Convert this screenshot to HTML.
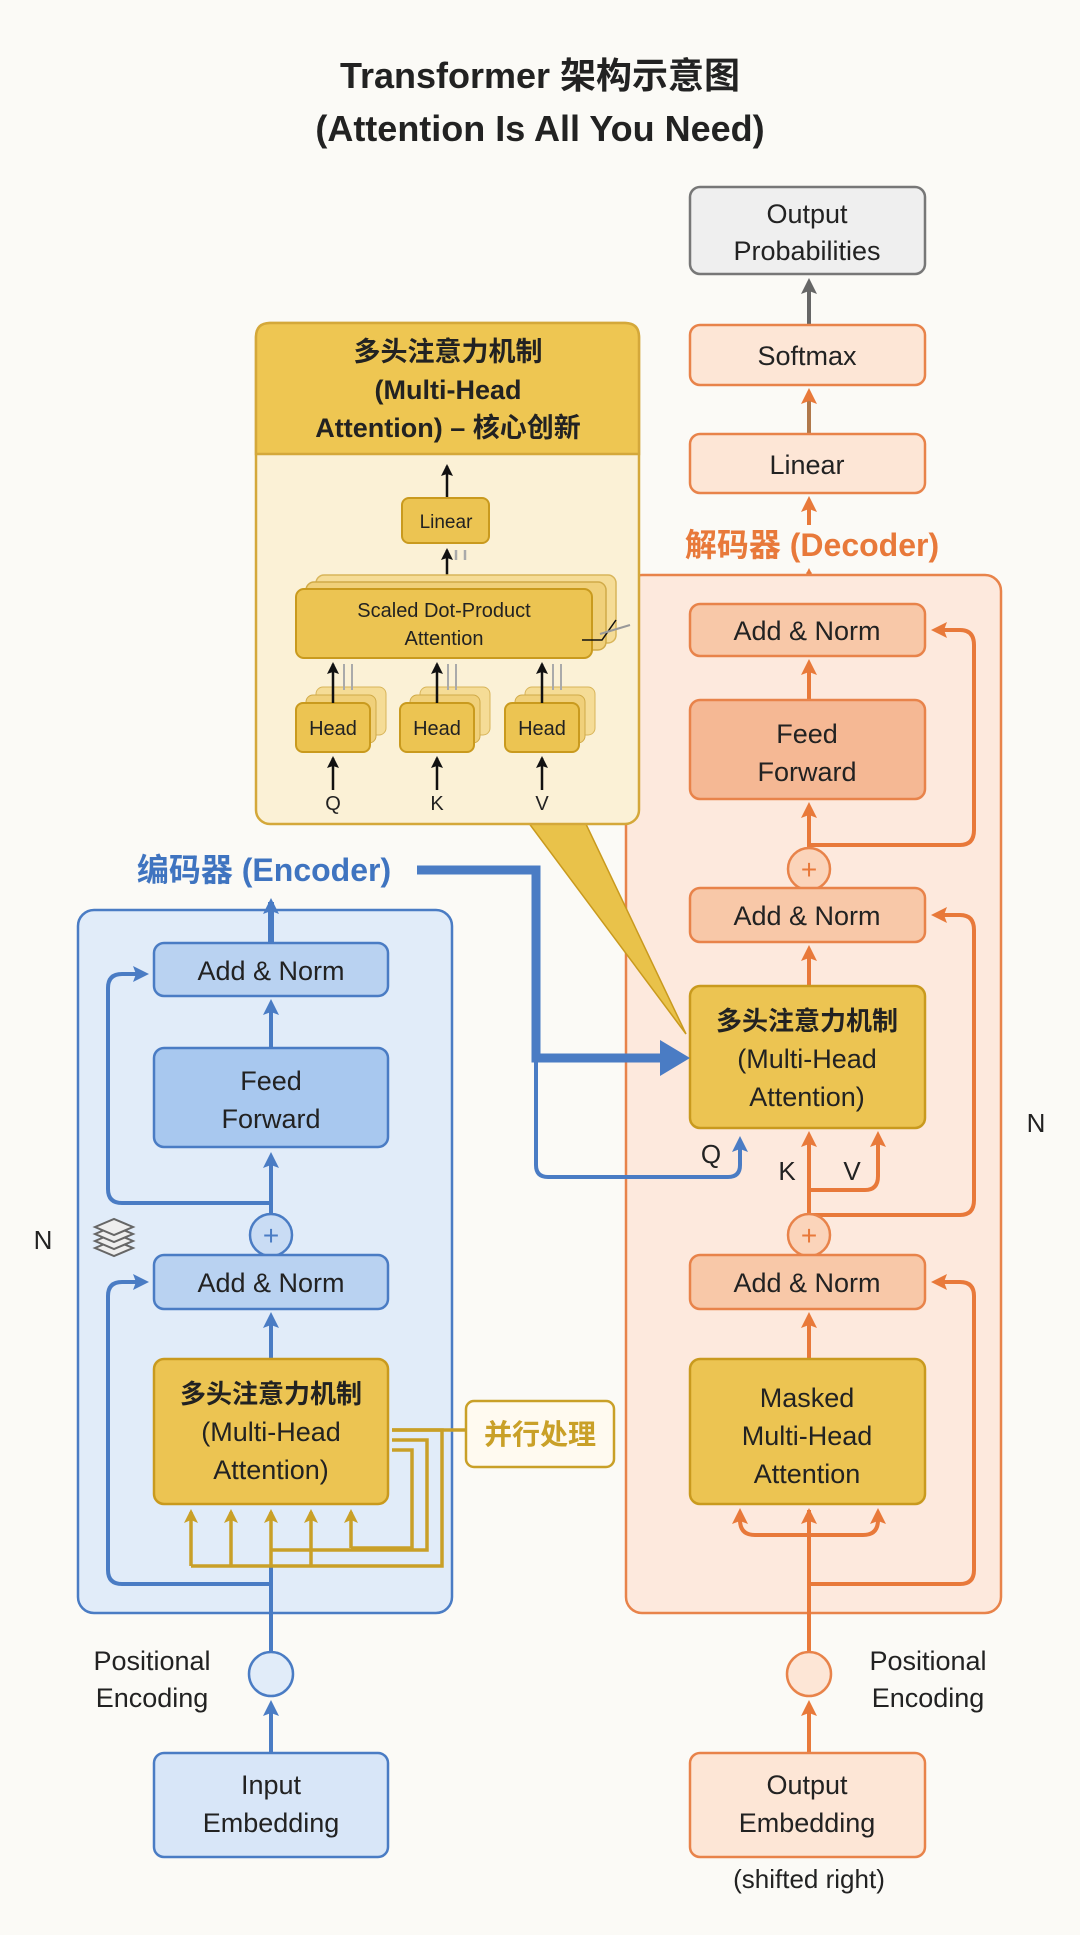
<!DOCTYPE html>
<html><head><meta charset="utf-8"><style>
html,body{margin:0;padding:0;background:#fbfaf6;}
svg{display:block}
text{font-family:"Liberation Sans","Noto Sans CJK SC",sans-serif;fill:#222;}
</style></head><body>
<svg width="1080" height="1935" viewBox="0 0 1080 1935" xmlns="http://www.w3.org/2000/svg">
<defs>
<marker id="ao" markerWidth="16" markerHeight="16" refX="12" refY="8" orient="auto" markerUnits="userSpaceOnUse"><path d="M0,0 L16,8 L0,16 L3,8z" fill="#e8793a"/></marker>
<marker id="ab2" markerWidth="16" markerHeight="16" refX="12" refY="8" orient="auto" markerUnits="userSpaceOnUse"><path d="M0,0 L16,8 L0,16 L3,8z" fill="#4a7cc4"/></marker>
<marker id="ay" markerWidth="14" markerHeight="14" refX="11" refY="7" orient="auto" markerUnits="userSpaceOnUse"><path d="M0,0 L14,7 L0,14 L3,7z" fill="#c9a028"/></marker>
<marker id="ak" markerWidth="12" markerHeight="12" refX="10" refY="6" orient="auto" markerUnits="userSpaceOnUse"><path d="M0,0 L12,6 L0,12 L2,6z" fill="#111"/></marker>
<marker id="ag" markerWidth="16" markerHeight="16" refX="12" refY="8" orient="auto" markerUnits="userSpaceOnUse"><path d="M0,0 L16,8 L0,16 L3,8z" fill="#666"/></marker>
</defs>

<text x="540" y="88" font-size="36" font-weight="bold" text-anchor="middle">Transformer 架构示意图</text>
<text x="540" y="141" font-size="36" font-weight="bold" text-anchor="middle">(Attention Is All You Need)</text>

<rect x="690" y="187" width="235" height="87" rx="10" fill="#efefef" stroke="#777" stroke-width="2.5"/>
<text x="807" y="223" font-size="27" text-anchor="middle">Output</text>
<text x="807" y="260" font-size="27" text-anchor="middle">Probabilities</text>
<line x1="809" y1="325" x2="809" y2="282" stroke="#666" stroke-width="4" marker-end="url(#ag)"/>
<rect x="690" y="325" width="235" height="60" rx="10" fill="#fde6d6" stroke="#e8834a" stroke-width="2.5"/>
<text x="807" y="365" font-size="27" text-anchor="middle">Softmax</text>
<line x1="809" y1="434" x2="809" y2="392" stroke="#b0784a" stroke-width="4" marker-end="url(#ao)"/>
<rect x="690" y="434" width="235" height="59" rx="10" fill="#fde6d6" stroke="#e8834a" stroke-width="2.5"/>
<text x="807" y="474" font-size="27" text-anchor="middle">Linear</text>
<line x1="809" y1="525" x2="809" y2="500" stroke="#e8793a" stroke-width="4" marker-end="url(#ao)"/>
<text x="812" y="556" font-size="32" font-weight="bold" text-anchor="middle" style="fill:#e8793a">解码器 (Decoder)</text>
<line x1="809" y1="604" x2="809" y2="572" stroke="#e8793a" stroke-width="5" marker-end="url(#ao)"/>

<rect x="626" y="575" width="375" height="1038" rx="16" fill="#fde9dd" stroke="#e8834a" stroke-width="2.5"/>
<g stroke="#e8793a" stroke-width="4" fill="none">
<line x1="809" y1="1753" x2="809" y2="1704" marker-end="url(#ao)"/>
<line x1="809" y1="1652" x2="809" y2="1510"/>
<path d="M809,1535 H755 Q740,1535 740,1520 V1512" marker-end="url(#ao)"/>
<path d="M809,1535 H863 Q878,1535 878,1520 V1512" marker-end="url(#ao)"/>
<line x1="809" y1="1535" x2="809" y2="1512" marker-end="url(#ao)"/>
<path d="M809,1584 H960 Q974,1584 974,1570 V1296 Q974,1282 960,1282 H935" marker-end="url(#ao)"/>
<line x1="809" y1="1359" x2="809" y2="1316" marker-end="url(#ao)"/>
<line x1="809" y1="1255" x2="809" y2="1135" marker-end="url(#ao)"/>
<path d="M809,1190 H865 Q878,1190 878,1176 V1135" marker-end="url(#ao)"/>
<path d="M809,1215 H960 Q974,1215 974,1200 V930 Q974,915 960,915 H935" marker-end="url(#ao)"/>
<line x1="809" y1="986" x2="809" y2="949" marker-end="url(#ao)"/>
<line x1="809" y1="888" x2="809" y2="806" marker-end="url(#ao)"/>
<path d="M809,845 H960 Q974,845 974,830 V645 Q974,630 960,630 H935" marker-end="url(#ao)"/>
<line x1="809" y1="700" x2="809" y2="663" marker-end="url(#ao)"/>
</g>
<rect x="690" y="604" width="235" height="52" rx="10" fill="#f8c8a8" stroke="#e8834a" stroke-width="2.5"/>
<text x="807" y="640" font-size="27" text-anchor="middle">Add &amp; Norm</text>
<rect x="690" y="700" width="235" height="99" rx="10" fill="#f5b894" stroke="#e8834a" stroke-width="2.5"/>
<text x="807" y="743" font-size="27" text-anchor="middle">Feed</text>
<text x="807" y="781" font-size="27" text-anchor="middle">Forward</text>
<circle cx="809" cy="869" r="21" fill="#fbd4ba" stroke="#e8834a" stroke-width="2.5"/>
<text x="809" y="879" font-size="28" text-anchor="middle" style="fill:#e8793a">+</text>
<rect x="690" y="888" width="235" height="54" rx="10" fill="#f8c8a8" stroke="#e8834a" stroke-width="2.5"/>
<text x="807" y="925" font-size="27" text-anchor="middle">Add &amp; Norm</text>
<rect x="690" y="986" width="235" height="142" rx="10" fill="#ecc452" stroke="#c99a1e" stroke-width="2.5"/>
<text x="807" y="1030" font-size="26" font-weight="bold" text-anchor="middle">多头注意力机制</text>
<text x="807" y="1068" font-size="27" text-anchor="middle">(Multi-Head</text>
<text x="807" y="1106" font-size="27" text-anchor="middle">Attention)</text>
<text x="711" y="1163" font-size="26" text-anchor="middle">Q</text>
<text x="787" y="1180" font-size="26" text-anchor="middle">K</text>
<text x="852" y="1180" font-size="26" text-anchor="middle">V</text>
<circle cx="809" cy="1235" r="21" fill="#fbd4ba" stroke="#e8834a" stroke-width="2.5"/>
<text x="809" y="1245" font-size="28" text-anchor="middle" style="fill:#e8793a">+</text>
<rect x="690" y="1255" width="235" height="54" rx="10" fill="#f8c8a8" stroke="#e8834a" stroke-width="2.5"/>
<text x="807" y="1292" font-size="27" text-anchor="middle">Add &amp; Norm</text>
<rect x="690" y="1359" width="235" height="145" rx="10" fill="#ecc452" stroke="#c99a1e" stroke-width="2.5"/>
<text x="807" y="1407" font-size="27" text-anchor="middle">Masked</text>
<text x="807" y="1445" font-size="27" text-anchor="middle">Multi-Head</text>
<text x="807" y="1483" font-size="27" text-anchor="middle">Attention</text>
<text x="1036" y="1132" font-size="26" text-anchor="middle">N</text>

<circle cx="809" cy="1674" r="22" fill="#fde6d6" stroke="#e8834a" stroke-width="2.5"/>
<text x="928" y="1670" font-size="27" text-anchor="middle">Positional</text>
<text x="928" y="1707" font-size="27" text-anchor="middle">Encoding</text>
<rect x="690" y="1753" width="235" height="104" rx="10" fill="#fde6d6" stroke="#e8834a" stroke-width="2.5"/>
<text x="807" y="1794" font-size="27" text-anchor="middle">Output</text>
<text x="807" y="1832" font-size="27" text-anchor="middle">Embedding</text>
<text x="809" y="1888" font-size="26" text-anchor="middle">(shifted right)</text>

<rect x="78" y="910" width="374" height="703" rx="16" fill="#e1ecf9" stroke="#4a7cc4" stroke-width="2.5"/>
<text x="264" y="881" font-size="32" font-weight="bold" text-anchor="middle" style="fill:#3f74c0">编码器 (Encoder)</text>
<g stroke="#4a7cc4" stroke-width="4" fill="none">
<line x1="271" y1="1753" x2="271" y2="1704" marker-end="url(#ab2)"/>
<line x1="271" y1="1652" x2="271" y2="1566"/>
<path d="M271,1584 H122 Q108,1584 108,1570 V1296 Q108,1282 122,1282 H145" marker-end="url(#ab2)"/>
<line x1="271" y1="1359" x2="271" y2="1316" marker-end="url(#ab2)"/>
<line x1="271" y1="1255" x2="271" y2="1156" marker-end="url(#ab2)"/>
<path d="M271,1203 H122 Q108,1203 108,1189 V988 Q108,974 122,974 H145" marker-end="url(#ab2)"/>
<line x1="271" y1="1048" x2="271" y2="1003" marker-end="url(#ab2)"/>
<line x1="271" y1="943" x2="271" y2="902" stroke-width="6" marker-end="url(#ab2)"/>
</g>
<g stroke="#c9a028" stroke-width="3.5" fill="none">
<path d="M191,1566 V1512" marker-end="url(#ay)"/>
<path d="M231,1566 V1512" marker-end="url(#ay)"/>
<path d="M271,1566 V1512" marker-end="url(#ay)"/>
<path d="M311,1566 V1512" marker-end="url(#ay)"/>
<path d="M351,1548 V1512" marker-end="url(#ay)"/>
<path d="M191,1566 H442 V1430 H392"/>
<path d="M271,1550 H427 V1440 H392"/>
<path d="M351,1548 H412 V1450 H392"/>
<path d="M392,1430 H466"/>
</g>
<rect x="154" y="943" width="234" height="53" rx="10" fill="#b9d2f1" stroke="#4a7cc4" stroke-width="2.5"/>
<text x="271" y="980" font-size="27" text-anchor="middle">Add &amp; Norm</text>
<rect x="154" y="1048" width="234" height="99" rx="10" fill="#a8c8ef" stroke="#4a7cc4" stroke-width="2.5"/>
<text x="271" y="1090" font-size="27" text-anchor="middle">Feed</text>
<text x="271" y="1128" font-size="27" text-anchor="middle">Forward</text>
<circle cx="271" cy="1235" r="21" fill="#c9dcf4" stroke="#4a7cc4" stroke-width="2.5"/>
<text x="271" y="1245" font-size="28" text-anchor="middle" style="fill:#4a7cc4">+</text>
<rect x="154" y="1255" width="234" height="54" rx="10" fill="#b9d2f1" stroke="#4a7cc4" stroke-width="2.5"/>
<text x="271" y="1292" font-size="27" text-anchor="middle">Add &amp; Norm</text>
<rect x="154" y="1359" width="234" height="145" rx="10" fill="#ecc452" stroke="#c99a1e" stroke-width="2.5"/>
<text x="271" y="1403" font-size="26" font-weight="bold" text-anchor="middle">多头注意力机制</text>
<text x="271" y="1441" font-size="27" text-anchor="middle">(Multi-Head</text>
<text x="271" y="1479" font-size="27" text-anchor="middle">Attention)</text>
<rect x="466" y="1401" width="148" height="66" rx="8" fill="#fffaf0" stroke="#c9a028" stroke-width="2.5"/>
<text x="540" y="1444" font-size="28" font-weight="bold" text-anchor="middle" style="fill:#c9a028">并行处理</text>
<text x="43" y="1249" font-size="26" text-anchor="middle">N</text>
<g fill="#eee" stroke="#666" stroke-width="2">
<path d="M95,1248 L114,1240 L133,1248 L114,1256z"/>
<path d="M95,1241 L114,1233 L133,1241 L114,1249z"/>
<path d="M95,1234 L114,1226 L133,1234 L114,1242z"/>
<path d="M95,1227 L114,1219 L133,1227 L114,1235z"/>
</g>
<circle cx="271" cy="1674" r="22" fill="#e1ecf9" stroke="#4a7cc4" stroke-width="2.5"/>
<text x="152" y="1670" font-size="27" text-anchor="middle">Positional</text>
<text x="152" y="1707" font-size="27" text-anchor="middle">Encoding</text>
<rect x="154" y="1753" width="234" height="104" rx="10" fill="#d8e6f8" stroke="#4a7cc4" stroke-width="2.5"/>
<text x="271" y="1794" font-size="27" text-anchor="middle">Input</text>
<text x="271" y="1832" font-size="27" text-anchor="middle">Embedding</text>

<path d="M528,822 L585,822 L686,1034z" fill="#e9c24a" stroke="#c99a1e" stroke-width="1.5"/>
<g stroke="#4a7cc4" fill="none">
<path d="M417,870 H536 V1058 H665" stroke-width="9"/>
<path d="M536,1058 V1165 Q536,1177 548,1177 H728 Q740,1177 740,1165 V1140" stroke-width="4" marker-end="url(#ab2)"/>
</g>
<polygon points="660,1040 690,1058 660,1076" fill="#4a7cc4"/>

<rect x="256" y="323" width="383" height="501" rx="14" fill="#fbf1d6" stroke="#d4a83a" stroke-width="2.5"/>
<path d="M256,454 V337 Q256,323 270,323 H625 Q639,323 639,337 V454z" fill="#eec652" stroke="#d4a83a" stroke-width="2.5"/>
<text x="448" y="361" font-size="27" font-weight="bold" text-anchor="middle">多头注意力机制</text>
<text x="448" y="399" font-size="27" font-weight="bold" text-anchor="middle">(Multi-Head</text>
<text x="448" y="437" font-size="27" font-weight="bold" text-anchor="middle">Attention) – 核心创新</text>
<g stroke="#111" stroke-width="2.5" fill="none">
<line x1="447" y1="498" x2="447" y2="466" marker-end="url(#ak)"/>
<line x1="447" y1="589" x2="447" y2="550" marker-end="url(#ak)"/>
<line x1="456" y1="560" x2="456" y2="550" stroke="#aaa"/>
<line x1="465" y1="560" x2="465" y2="550" stroke="#aaa"/>
</g>
<rect x="402" y="498" width="87" height="45" rx="7" fill="#ecc452" stroke="#c99a1e" stroke-width="2"/>
<text x="446" y="528" font-size="19" text-anchor="middle">Linear</text>
<rect x="316" y="575" width="300" height="68" rx="8" fill="#f5dc96" stroke="#d8b55a" stroke-width="1.5"/>
<rect x="306" y="582" width="300" height="68" rx="8" fill="#f0d07a" stroke="#d0aa48" stroke-width="1.5"/>
<rect x="296" y="589" width="296" height="69" rx="8" fill="#ecc452" stroke="#c99a1e" stroke-width="2"/>
<text x="444" y="617" font-size="20" text-anchor="middle">Scaled Dot-Product</text>
<text x="444" y="645" font-size="20" text-anchor="middle">Attention</text>
<path d="M582,640 L602,640 L616,620" stroke="#111" stroke-width="1.5" fill="none"/>
<line x1="600" y1="634" x2="630" y2="625" stroke="#999" stroke-width="2"/>
<g>
<rect x="316" y="687" width="70" height="48" rx="7" fill="#f5dc96" stroke="#d8b55a"/>
<rect x="306" y="695" width="70" height="48" rx="7" fill="#f0d07a" stroke="#d0aa48"/>
<rect x="296" y="703" width="74" height="49" rx="7" fill="#ecc452" stroke="#c99a1e" stroke-width="2"/>
<rect x="420" y="687" width="70" height="48" rx="7" fill="#f5dc96" stroke="#d8b55a"/>
<rect x="410" y="695" width="70" height="48" rx="7" fill="#f0d07a" stroke="#d0aa48"/>
<rect x="400" y="703" width="74" height="49" rx="7" fill="#ecc452" stroke="#c99a1e" stroke-width="2"/>
<rect x="525" y="687" width="70" height="48" rx="7" fill="#f5dc96" stroke="#d8b55a"/>
<rect x="515" y="695" width="70" height="48" rx="7" fill="#f0d07a" stroke="#d0aa48"/>
<rect x="505" y="703" width="74" height="49" rx="7" fill="#ecc452" stroke="#c99a1e" stroke-width="2"/>
</g>
<text x="333" y="735" font-size="20" text-anchor="middle">Head</text>
<text x="437" y="735" font-size="20" text-anchor="middle">Head</text>
<text x="542" y="735" font-size="20" text-anchor="middle">Head</text>
<g stroke="#111" stroke-width="2.5">
<line x1="333" y1="703" x2="333" y2="664" marker-end="url(#ak)"/>
<line x1="437" y1="703" x2="437" y2="664" marker-end="url(#ak)"/>
<line x1="542" y1="703" x2="542" y2="664" marker-end="url(#ak)"/>
<line x1="333" y1="790" x2="333" y2="758" marker-end="url(#ak)"/>
<line x1="437" y1="790" x2="437" y2="758" marker-end="url(#ak)"/>
<line x1="542" y1="790" x2="542" y2="758" marker-end="url(#ak)"/>
</g>
<g stroke="#aaa" stroke-width="2">
<line x1="344" y1="690" x2="344" y2="664"/><line x1="352" y1="690" x2="352" y2="664"/>
<line x1="448" y1="690" x2="448" y2="664"/><line x1="456" y1="690" x2="456" y2="664"/>
<line x1="553" y1="690" x2="553" y2="664"/><line x1="561" y1="690" x2="561" y2="664"/>
</g>
<text x="333" y="810" font-size="20" text-anchor="middle">Q</text>
<text x="437" y="810" font-size="20" text-anchor="middle">K</text>
<text x="542" y="810" font-size="20" text-anchor="middle">V</text>
</svg>
</body></html>
